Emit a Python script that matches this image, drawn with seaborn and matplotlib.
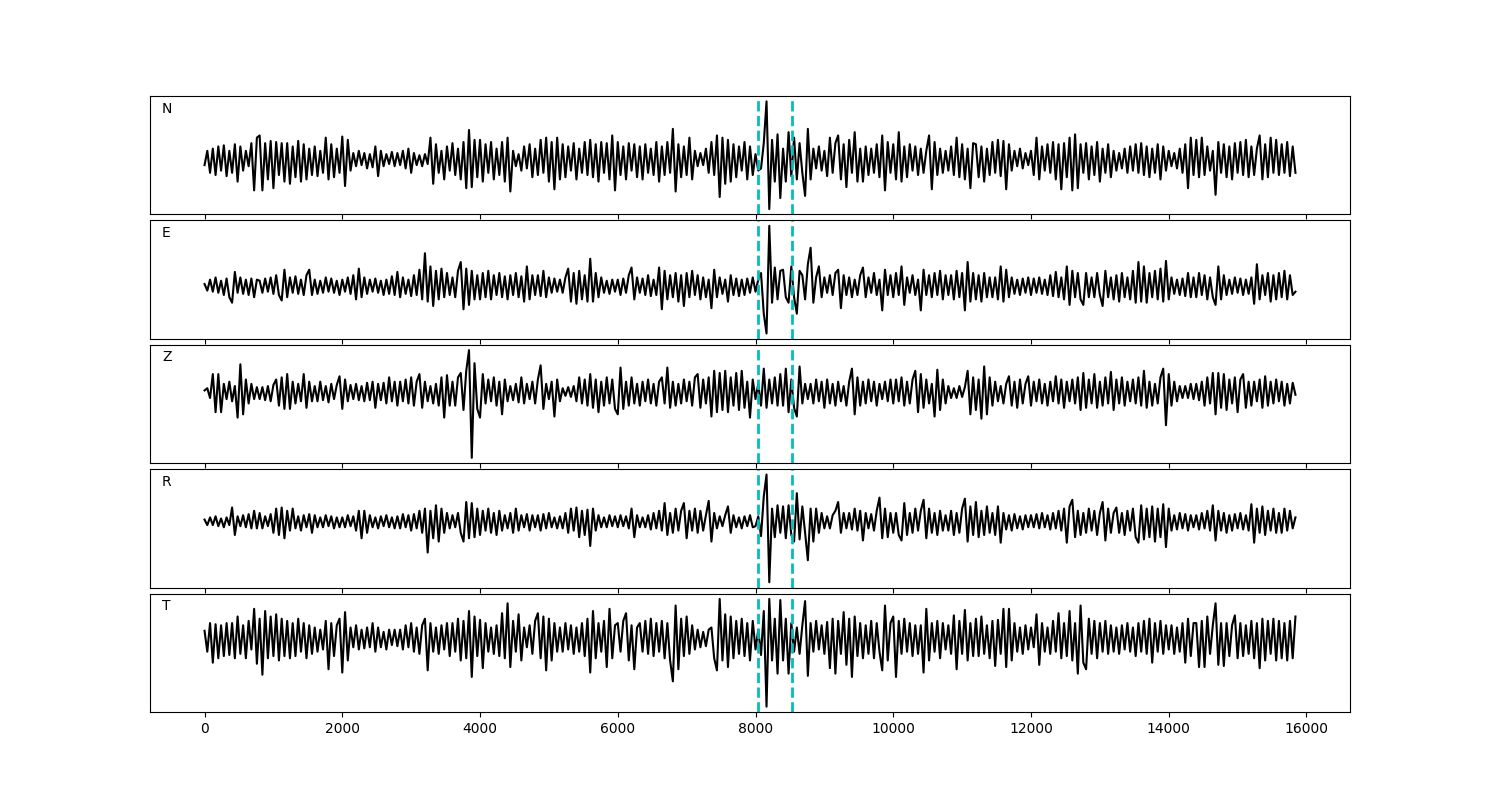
import matplotlib
matplotlib.use("Agg")
import matplotlib.pyplot as plt
import seaborn as sns
import numpy as np

# samples every 40 points (arbitrary amplitude units)
DT = 40
PICKS = [8040, 8530]
COMPONENTS = ['N', 'E', 'Z', 'R', 'T']

trace_n = [
    -5, 8, -12, 10, -14, 12, -10, 13, -15, 8,
    -12, 14, -20, 12, -10, 8, -6, 15, -28, 20,
    22, -28, 15, -18, 17, -26, 16, -14, 15, -20,
    15, -22, 12, -16, 17, -20, 14, -18, 10, -14,
    12, -15, 8, -12, 20, -18, 14, -16, 10, -12,
    21, -24, 18, -10, 6, -6, 8, -5, 6, -8,
    5, -7, 12, -15, 8, -6, 5, -4, 7, -6,
    6, -5, 8, -8, 10, -12, 6, -5, 4, -6,
    5, -4, 20, -22, 14, -12, 8, -18, 12, -10,
    15, -14, 10, -18, 16, -26, 27, -25, 18, -16,
    18, -20, 14, -12, 16, -18, 10, -14, 16, -20,
    20, -29, 8, -6, 5, -10, 12, -8, 14, -16,
    10, -14, 18, -12, 20, -20, 16, -27, 20, -18,
    14, -16, 12, -10, 15, -18, 10, -12, 16, -14,
    18, -16, 14, -20, 16, -12, 15, -18, 22, -28,
    16, -14, 12, -18, 15, -10, 14, -16, 12, -18,
    14, -12, 10, -14, 16, -20, 12, -14, 16, -12,
    28, -29, 14, -16, 12, -14, 20, -18, 8, -6,
    6, -5, 10, -12, 16, -14, 22, -34, 20, -22,
    18, -20, 14, -16, 12, -10, 16, -18, 12, -14,
    5, -10, -8, 15, 53, -45, 18, -20, 23, -35,
    10, -20, 25, -15, 20, -18, 15, -12, -33, 28,
    -18, 10, -8, 12, -10, 8, -15, 20, -12, 15,
    22, -18, 14, -25, 18, -12, 25, -20, 10, -20,
    12, -14, 10, -12, 14, -16, 22, -28, 16, -12,
    14, -18, 25, -20, 12, -16, 14, -10, 12, -14,
    10, -12, 8, 22, -27, 16, -14, 10, -12, 8,
    -10, 12, -14, 20, -16, 14, -18, 10, -26, 15,
    14, -16, 12, -20, 10, -14, 16, -12, 18, -15,
    17, -27, 14, -10, 8, -6, 10, -8, 6, -5,
    8, -14, 20, -18, 12, -10, 14, -12, 16, -18,
    14, -27, 15, -16, 20, -28, 23, -26, 14, -12,
    15, -18, 12, -14, 16, -20, 10, -12, 14, -16,
    8, -10, 6, -8, 10, -12, 12, -10, 14, -12,
    15, -14, 12, -16, 10, -12, 14, -18, 12, -10,
    8, -6, 6, -8, 10, -12, 14, -26, 20, -14,
    18, -16, 20, -14, 12, -10, 8, -32, 16, -12,
    14, -16, 12, -18, 15, -12, 16, -14, 18, -16,
    12, -14, 10, 22, -18, 14, -16, 20, -12, 18,
    -14, 14, -12, 16, -15, 12, -12,
]

trace_e = [
    2, -4, 6, -5, 8, -6, 5, -8, 7, -10,
    -15, 13, -6, 8, -7, 6, -8, 7, -10, 6,
    5, -6, 7, -5, 8, -7, 10, -8, -13, 15,
    -10, 8, -6, 9, -7, 6, -8, 10, 15, -8,
    6, -7, 5, -6, 8, -5, 7, -6, 5, -8,
    6, -5, 8, -7, 10, -12, 16, -10, 8, -7,
    6, -5, 7, -6, 5, -8, 6, -7, 9, -8,
    13, -10, 8, -7, 6, -9, 10, -8, 15, -12,
    30, -14, 18, -18, 14, -12, 16, -10, 12, -8,
    8, -10, 14, 22, -21, 16, -17, 14, -12, 10,
    -12, 12, -10, 14, -12, 10, -8, 12, -10, 9,
    -12, 10, -8, 12, -10, 9, -14, 18, -12, 10,
    -8, 10, -9, 14, -10, 8, -6, 7, -5, 6,
    -6, 8, 16, -14, 12, -16, 14, -12, 10, -14,
    25, -14, 12, -10, 8, -6, 5, -7, 6, -5,
    6, -8, 7, -6, 10, 17, -12, 8, -6, 7,
    -8, 10, -9, 6, -8, 17, -21, 14, -12, 10,
    -10, 12, -14, 10, -18, 12, -10, 14, -8, 10,
    -12, 8, -10, 6, -20, 15, -10, 8, -7, 6,
    -14, 10, -8, 7, -9, 6, -8, 7, -6, 8,
    -5, 6, 12, -25, -43, 55, -15, 17, -12, 14,
    15, -10, -15, 18, -10, -25, 14, 10, -12, 20,
    35, -15, 8, 18, -10, 8, -6, 10, -8, 12,
    15, -20, 10, -8, 8, -10, 6, -8, 10, 17,
    -10, 8, -6, 12, -8, 6, -22, 15, -8, 10,
    -10, 12, -8, 18, -17, 8, -6, 10, -8, 6,
    -22, 15, -8, 10, -10, 12, -8, 14, -12, 10,
    -8, 10, -12, 14, -10, 12, -22, 22, -14, 12,
    -12, 10, -14, 12, -10, 8, -10, 8, -12, 18,
    -14, 15, -10, 8, -7, 6, -8, 7, -6, 8,
    -8, 7, -6, 8, -7, 6, -8, 10, -9, 13,
    -10, 8, -12, 18, -17, 14, -10, 12, -12, -17,
    12, -10, 8, -10, 12, -8, -18, 14, -10, 8,
    -12, 10, -14, 12, -10, 8, -12, 14, -15, 22,
    -14, 18, -15, 12, -10, 14, -12, 16, -14, 23,
    -12, 8, -7, 6, -8, 7, -9, 12, -10, 8,
    -10, 12, -8, 10, -12, 8, -10, -17, 18, -12,
    10, -8, 6, -7, 8, -6, 7, -8, 6, -7,
    8, -16, 20, -12, 10, -8, 12, -14, 10, -12,
    12, -10, 14, -12, 10, -8, -5,
]

trace_z = [
    2, 4, -5, 17, -18, 17, -18, 8, -6, 10,
    -8, 6, -23, 26, -20, 12, -10, 8, -6, 5,
    -6, 5, -7, 6, -8, 7, 12, -12, 14, -15,
    17, -15, 10, -10, 8, -8, 17, -14, 10, -8,
    6, -8, 10, -7, 6, -9, 8, -6, 7, 15,
    -15, 12, -8, 7, -6, 8, -7, 6, -8, 9,
    -7, 10, -14, 8, -7, 9, -10, 14, -8, 10,
    -12, 10, -8, 12, -10, 14, -12, 10, 17, -14,
    10, -8, 6, -10, 8, -12, 14, -23, 16, -12,
    10, -12, 14, 18, -16, 20, 39, -60, 27, -15,
    -23, 17, -10, 12, -8, 14, -12, 10, -20, 12,
    -8, 6, -7, 8, -9, 14, -10, 8, -6, 10,
    -10, 12, 25, -15, 8, -6, 10, -22, 12, -8,
    4, -3, 5, -4, 6, -8, 14, -10, 12, -12,
    17, -14, 12, -18, 10, -12, 14, -10, 12, -15,
    -20, 23, -15, 10, -12, 14, -10, 8, -12, 10,
    -8, 12, -10, 8, -12, 10, 14, -10, 23, -14,
    10, -12, 8, -10, 12, -8, 10, -12, 14, 17,
    -14, 12, -10, 14, -22, 20, -18, 18, -16, 20,
    -18, 14, -12, 18, -16, 20, -14, 10, -23, 12,
    -6, 8, -12, 22, -14, 12, -10, 14, -12, 17,
    -12, 22, -18, 12, -14, -22, 24, -10, 8, -6,
    8, -10, 12, -8, 10, -14, 12, -10, 8, -12,
    10, -8, 6, -12, 10, 22, -20, 14, -12, 10,
    -10, 12, -8, 10, -12, 8, -6, 10, -8, 12,
    -10, 12, -8, 14, -12, 10, -10, 12, 20, -18,
    17, -14, 12, -10, 8, -22, 21, -16, 12, -10,
    6, -5, 4, -5, 6, -4, 5, 20, -20, 14,
    -16, 12, -24, 24, -20, 14, -12, 10, -8, 6,
    -10, 8, 15, -12, 10, -14, 12, -10, 8, 15,
    -12, 10, -8, 12, -10, 8, -12, 10, -8, 15,
    -10, 12, -14, 10, -8, 12, -10, 14, -16, 18,
    -14, 12, -10, 17, -14, 10, -12, 14, -10, 19,
    -16, 12, -10, 14, -12, 10, -8, 12, -10, 14,
    -12, 20, -14, 10, -12, 8, -10, 14, 22, -30,
    17, -12, 10, -8, 6, -5, 6, -5, 8, -6,
    8, -7, 10, -12, 14, -10, 18, -20, 18, -14,
    17, -16, 12, -10, 14, -18, 12, 17, -14, 10,
    -12, 10, -8, 12, -14, 15, -12, 10, -10, 12,
    -8, 10, -12, 8, -10, 9, -2,
]

trace_r = [
    2, -3, 4, -3, 5, -4, 3, -5, 4, -3,
    13, -12, 5, -4, 6, -5, 7, -6, 10, -6,
    8, -6, 5, -4, 7, -10, 12, -12, 13, -15,
    10, -8, 12, -6, 5, -8, 6, -5, 7, -10,
    6, -5, 4, -5, 6, -4, 5, -6, 4, -5,
    4, -5, 6, -4, 5, -8, 10, -15, 10, -10,
    6, -5, 4, -6, 5, -4, 6, -5, 4, -6,
    5, -6, 7, -5, 6, -8, 7, -6, 10, -10,
    12, -28, 10, -15, 15, -18, 12, -10, 8, -6,
    6, -5, 8, -10, -18, 18, -15, 17, -14, 12,
    -12, 10, -8, 12, -10, 8, -12, 10, -8, 6,
    -6, 8, -10, 12, -8, 6, -5, 7, -8, 6,
    -5, 6, -8, 7, -6, 8, -5, 4, -6, 5,
    -6, 8, -10, 12, -8, 13, -14, 10, -12, 11,
    -22, 12, -8, 6, -5, 4, -5, 6, -4, 5,
    -5, 6, -4, 5, -6, 12, -14, 6, -5, 4,
    -5, 6, -7, 8, -6, 10, -8, 17, -12, 8,
    -10, 12, -8, 10, 17, -15, 10, -8, 12, -10,
    10, -8, 6, 19, -18, 8, -6, 5, -4, 6,
    14, -10, 6, -5, 4, -6, 5, -4, 6, -5,
    -4, 5, -13, 23, 43, -55, 12, -14, 15, -10,
    14, -15, 15, -12, -18, 26, -16, 14, -10, -35,
    12, -18, 12, -10, 8, -6, 5, -6, 6, 10,
    18, -10, 8, -6, 8, -7, 12, -8, 10, -17,
    8, -6, 7, -8, 10, 22, -15, 12, -14, 8,
    -10, 8, -12, -17, 17, -12, 8, -10, 12, -8,
    10, 20, -15, 12, -10, 8, -12, 10, -8, 6,
    -8, 10, -12, 8, -10, 12, 21, -18, 14, -12,
    18, -14, 10, -12, 14, -10, 8, -12, 14, -19,
    8, -7, 6, -8, 7, -6, 5, -7, 6, -5,
    6, -5, 7, -6, 8, -5, 6, -7, 8, -6,
    10, -8, 12, -19, 14, 20, -14, 10, -12, 8,
    -10, 12, -8, 10, -12, 8, 18, -17, 12, -10,
    8, 13, -10, 8, -12, 10, -8, 12, -14, -19,
    15, -16, 12, -14, 14, -18, 12, -14, 16, -23,
    12, -8, 6, -7, 8, -6, 7, -8, 6, -5,
    6, -7, 8, -6, 10, -8, 15, -17, 10, -8,
    8, -10, 6, -8, 7, -6, 8, -7, 6, -8,
    16, -19, 12, -10, 14, -12, 10, -8, 12, -10,
    8, -10, 12, -8, 10, -6, 4,
]

trace_t = [
    7, -12, 14, -22, 13, -18, 12, -16, 14, -15,
    14, -18, 20, -14, 12, -18, 16, -10, 27, -23,
    18, -33, 25, -18, 20, -16, 22, -20, 18, -16,
    16, -18, 14, -16, 18, -12, 14, -18, 12, -14,
    10, -12, 8, -10, 16, -28, 14, -16, 12, 18,
    -31, 24, -20, 10, -8, 12, -10, 8, -9, 10,
    -8, 14, -12, 10, -8, 6, -10, 8, -6, 8,
    -7, 8, -10, 12, -8, 14, -12, 10, -14, 12,
    18, -29, 14, -12, 10, -14, 12, -10, 14, -16,
    14, -12, 18, -20, 16, -18, 25, -35, 20, -16,
    17, -27, 14, -12, 10, -14, 12, -16, 23, -18,
    32, -26, 16, -12, 22, -20, 10, -8, 12, -14,
    16, 23, -18, 20, -29, 18, -20, 14, -12, 10,
    -12, 14, -10, 12, -14, 10, -12, 14, -16, 18,
    -31, 25, -18, 14, -12, 16, -26, 27, -18, 12,
    14, -12, 16, 23, -20, 12, -28, 10, 14, -12,
    16, -14, 18, -16, 14, -12, 16, -18, 14, -20,
    -39, 30, -28, 18, -16, 20, -14, 12, -10, 8,
    -8, 6, -7, 8, 10, -18, -29, 36, -20, 22,
    -26, 20, -18, 16, -14, 18, -16, 14, -20, 16,
    -10, 8, -15, 25, -62, 36, -20, 18, -32, 35,
    -20, 18, -32, 14, -12, 10, -14, 12, 34, -34,
    14, -12, 16, -10, 12, -14, 15, -27, 18, -32,
    16, -14, 24, -24, 18, -35, 20, -16, 14, -18,
    12, -14, 16, -18, 14, -12, -29, 30, -20, 14,
    20, -35, 16, -14, 18, -12, 14, -16, 12, -14,
    12, -31, 27, -20, 14, -12, 16, -18, 14, -10,
    12, -14, 21, -28, 16, -14, 26, -20, 14, -16,
    18, -16, 20, -14, 12, -18, 16, -25, 17, -14,
    27, -26, 27, -20, 14, -12, 10, -14, 12, -10,
    10, -8, 22, -24, 14, -12, 10, -14, 16, -12,
    23, -18, 14, -16, 25, -20, 14, -32, 30, -22,
    -28, 18, -14, 16, -18, 14, -12, 16, -14, 12,
    -12, 10, -14, 12, -10, 14, -12, 10, -16, 14,
    -12, 16, -14, 18, -22, 14, -12, 16, -14, 12,
    -10, 12, -14, 10, -12, 14, -22, 18, -16, 14,
    14, -26, 16, -26, 20, -14, 12, 32, -24, 14,
    -25, 14, -16, 12, 21, -18, 14, -16, 12, -14,
    16, -18, 14, -27, 18, -20, 16, -14, 18, -20,
    16, -18, 14, -20, 16, -18, 20,
]

traces = [trace_n, trace_e, trace_z, trace_r, trace_t]

fig, axes = plt.subplots(5, 1, figsize=(15, 8), sharex=True)
fig.subplots_adjust(left=0.1, right=0.9, top=0.88, bottom=0.11, hspace=0.05)

for ax, name, trace in zip(axes, COMPONENTS, traces):
    t = np.arange(len(trace)) * DT
    sns.lineplot(x=t, y=trace, ax=ax, color='k', linewidth=1.5)
    for p in PICKS:
        ax.axvline(p, color='c', linestyle='--', linewidth=2)
    ax.set_yticks([])
    ax.text(0.01, 0.86, name, transform=ax.transAxes, fontsize=10)

fig.savefig('out.png', dpi=100)
